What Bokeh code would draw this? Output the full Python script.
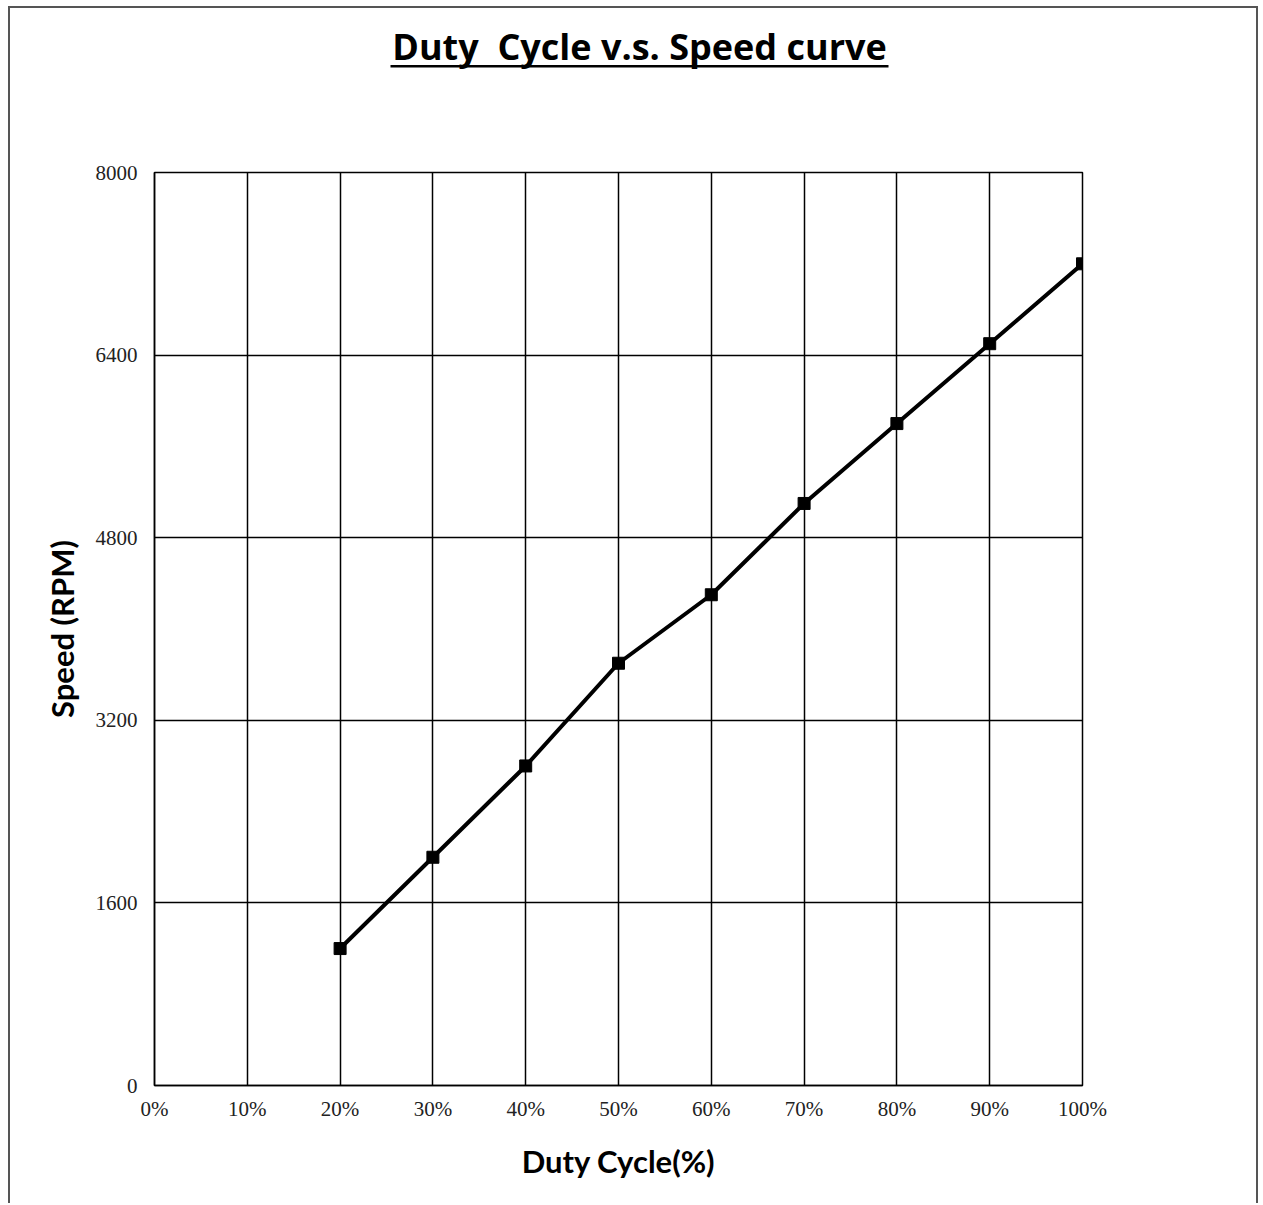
from bokeh.plotting import figure
from bokeh.layouts import column
from bokeh.models import Range1d, FixedTicker, CustomJSTickFormatter
from bokeh.core.properties import value
from bokeh.embed import file_html
from bokeh.resources import INLINE

duty_cycle = [20, 30, 40, 50, 60, 70, 80, 90, 100]
speed_rpm = [1200, 2000, 2800, 3700, 4300, 5100, 5800, 6500, 7200]
x_ticks = [0, 10, 20, 30, 40, 50, 60, 70, 80, 90, 100]
y_ticks = [0, 1600, 3200, 4800, 6400, 8000]
title_text = "Duty\u00a0\u00a0Cycle v.s. Speed curve"
x_label = "Duty Cycle(%)"
y_label = "Speed (RPM)"

W = 1246
TH = 154
PH = 1041

# --- title strip (its frame is aligned with the main frame: page x 154..1082) ---
t = figure(width=W, height=TH, output_backend="svg", toolbar_location=None,
           x_range=Range1d(154, 1082), y_range=Range1d(TH, 0), min_border=0,
           x_axis_location=None, y_axis_location=None)
t.grid.visible = False
t.outline_line_color = None
t.text(x=[639], y=[38], text=[title_text], text_font=value("Open Sans"),
       text_font_style="bold", text_font_size="36px", text_align="center",
       text_baseline="alphabetic", text_color="black")
t.quad(left=[390], right=[888], bottom=[59], top=[56.5],
       fill_color="black", line_color=None)

# --- main plot ---
p = figure(width=W, height=PH, output_backend="svg", toolbar_location=None,
           x_range=Range1d(0, 100), y_range=Range1d(0, 8000),
           min_border_left=144, min_border_right=174, min_border_top=10, min_border_bottom=118)

p.xaxis.ticker = FixedTicker(ticks=x_ticks)
p.yaxis.ticker = FixedTicker(ticks=y_ticks)
p.xaxis.formatter = CustomJSTickFormatter(code="return tick + '%';")

for ax in (p.xaxis[0], p.yaxis[0]):
    ax.axis_line_color = "black"
    ax.axis_line_width = 1.5
    ax.major_tick_line_color = None
    ax.minor_tick_line_color = None
    ax.major_label_text_font = "Liberation Serif"
    ax.major_label_text_font_size = "21px"
    ax.major_label_text_color = "#222222"
    ax.axis_label_text_font = "Lato"
    ax.axis_label_text_font_style = "bold"
    ax.axis_label_text_font_size = "31px"
    ax.axis_label_text_color = "black"

p.xaxis.axis_label = x_label
p.yaxis.axis_label = y_label
p.xaxis.major_label_standoff = 5
p.yaxis.major_label_standoff = 11
p.xaxis.axis_label_standoff = 18
p.yaxis.axis_label_standoff = 12

p.xgrid.ticker = FixedTicker(ticks=x_ticks)
p.ygrid.ticker = FixedTicker(ticks=y_ticks)
for g in (p.xgrid[0], p.ygrid[0]):
    g.grid_line_color = "black"
    g.grid_line_width = 1.5
    g.grid_line_alpha = 1.0
p.outline_line_color = "black"
p.outline_line_width = 1.5

p.line(duty_cycle, speed_rpm, line_color="black", line_width=4)
p.scatter(duty_cycle, speed_rpm, marker="square", size=12, fill_color="black", line_color="black")

layout = column(t, p, spacing=0)
layout.styles = {"border-left": "2px solid #555", "border-top": "2px solid #555",
                 "border-right": "2px solid #555", "margin-left": "8px", "margin-top": "6px"}

open("out.html", "w").write(file_html(layout, INLINE))
